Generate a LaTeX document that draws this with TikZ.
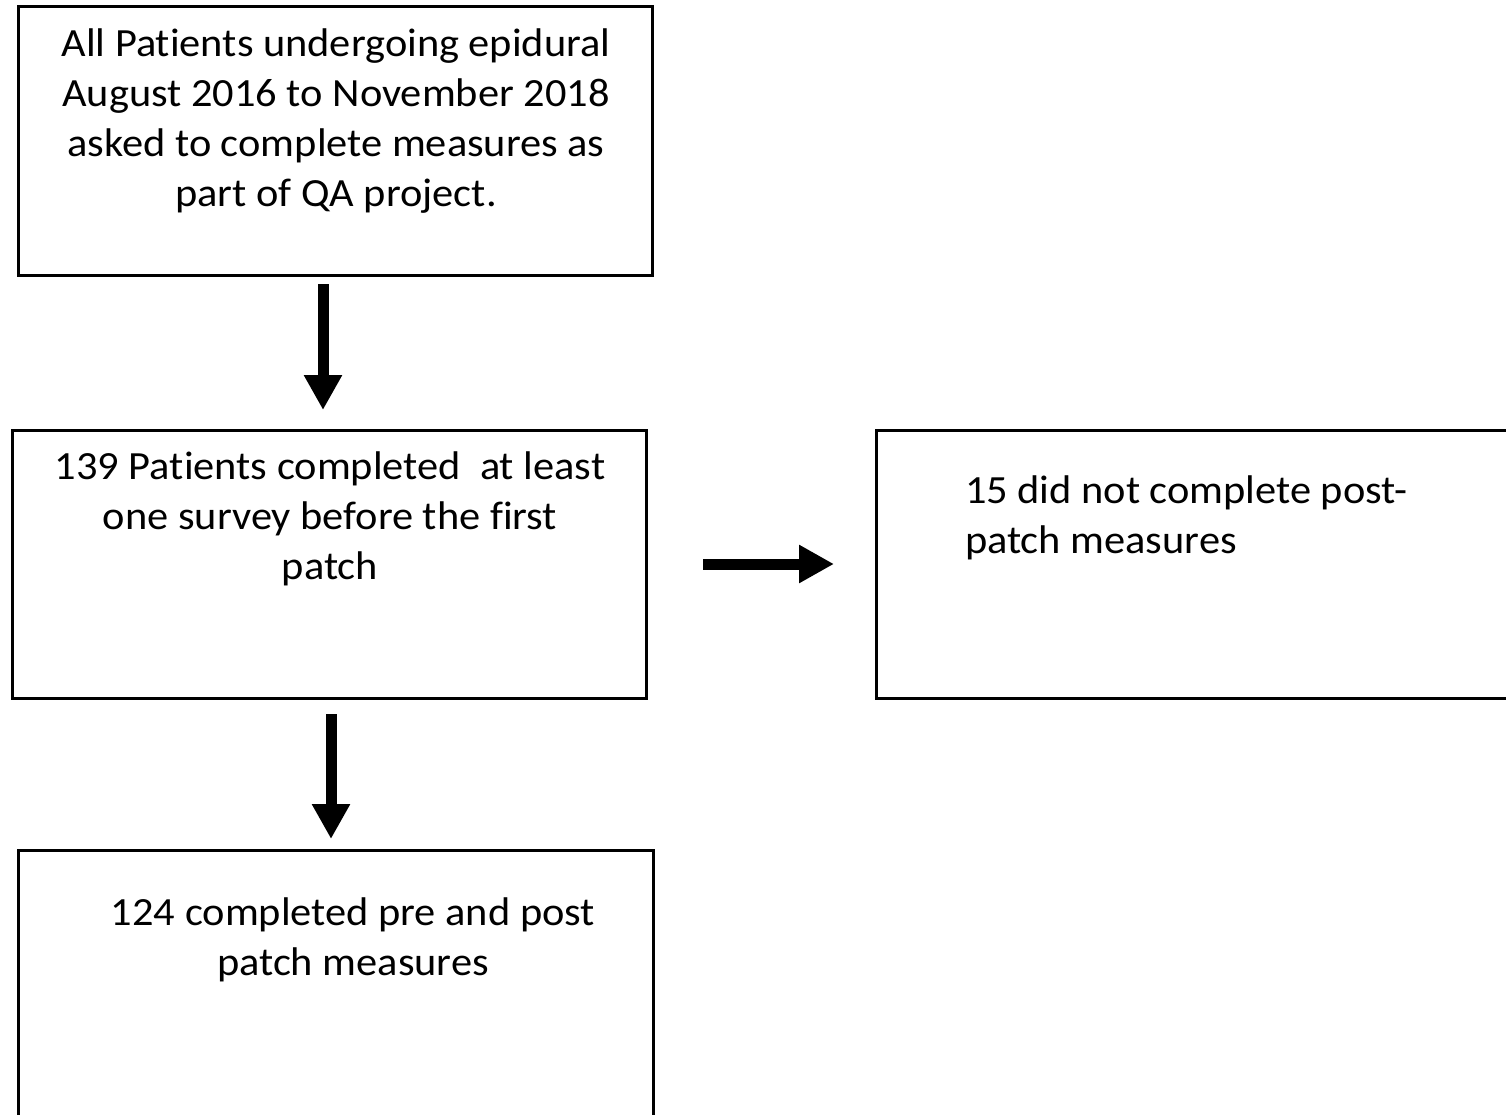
\documentclass[tikz,border=0pt]{standalone}
\usepackage{fontspec}
\setmainfont{Carlito}[Ligatures={NoCommon}, FakeStretch=1.06]
\usetikzlibrary{arrows.meta}
\tikzset{
  box/.style={draw=black, line width=3pt, rectangle, inner sep=0pt, outer sep=0pt},
  txt/.style={inner sep=0pt, outer sep=0pt, font=\fontsize{40}{50}\selectfont},
  fat/.style={line width=11pt, -{Triangle[length=35pt,width=36pt]}},
}
\begin{document}
\begin{tikzpicture}[x=1pt,y=-1pt]
\useasboundingbox (0,0) rectangle (1506,1115);
\clip (0,0) rectangle (1506,1115);
% boxes
\node[box, minimum width=634, minimum height=268] (b1) at (335,141) {};
\node[box, minimum width=634, minimum height=268] (b2) at (329,564) {};
\node[box, minimum width=660, minimum height=268] (b3) at (1206,564) {};
\node[box, minimum width=635, minimum height=290] (b4) at (335.5,995) {};
% texts
\node[txt, anchor=base] (t1) at (336,57) {\begin{tabular}[t]{@{}c@{}}All Patients undergoing epidural\\August 2016 to November 2018\\asked to complete measures as\\part of QA project.\end{tabular}};
\node[txt, anchor=base] (t2) at (330,479) {\begin{tabular}[t]{@{}c@{}}139 Patients completed \ at least\\one survey before the first\\patch\end{tabular}};
\node[txt, anchor=base west] (t3) at (965,503) {\begin{tabular}[t]{@{}l@{}}15 did not complete post-\\patch measures\end{tabular}};
\node[txt, anchor=base] (t4) at (353,925) {\begin{tabular}[t]{@{}c@{}}124 completed pre and post\\patch measures\end{tabular}};
% arrow helper coordinates
\coordinate (a1) at (323,0);
\coordinate (a2) at (0,564);
\coordinate (a3) at (331,0);
% arrows
\draw[fat, shorten <=9pt, shorten >=20pt] (b1.south -| a1) -- (b2.north -| a1);
\draw[fat, shorten <=57pt, shorten >=42pt] (b2.east |- a2) -- (b3.west |- a2);
\draw[fat, shorten <=16pt, shorten >=11pt] (b2.south -| a3) -- (b4.north -| a3);
\end{tikzpicture}
\end{document}
